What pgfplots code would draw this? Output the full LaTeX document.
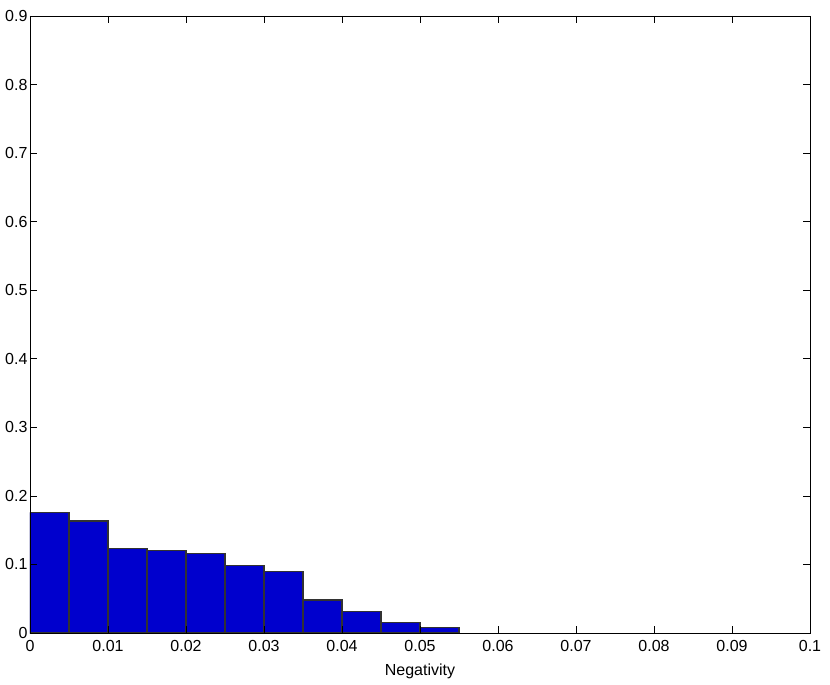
\documentclass[border=0pt]{standalone}
\usepackage{pgfplots}
\pgfplotsset{compat=1.18}
\usepackage{fontspec}
\setmainfont{Liberation Sans}
\definecolor{barblue}{RGB}{0,0,205}
\definecolor{baredge}{RGB}{50,50,50}
\pgfplotstableread{
x y
0.000 0.1755
0.005 0.1634
0.010 0.1230
0.015 0.1200
0.020 0.1162
0.025 0.0987
0.030 0.0894
0.035 0.0481
0.040 0.0311
0.045 0.0156
0.050 0.0077
0.055 0
}\histdata
\begin{document}
\begin{tikzpicture}[font=\fontsize{16bp}{19bp}\selectfont]
\begin{axis}[
  name=ax,
  scale only axis,
  width=780bp, height=617bp,
  xmin=0, xmax=0.1, ymin=0, ymax=0.9,
  xtick={0,0.01,0.02,0.03,0.04,0.05,0.06,0.07,0.08,0.09,0.1},
  xticklabels={0,0.01,0.02,0.03,0.04,0.05,0.06,0.07,0.08,0.09,0.1},
  ytick={0,0.1,0.2,0.3,0.4,0.5,0.6,0.7,0.8,0.9},
  yticklabels={0,0.1,0.2,0.3,0.4,0.5,0.6,0.7,0.8,0.9},
  tick align=inside,
  major tick length=7bp,
  tick style={black, line width=0.6pt},
  axis line style={black, line width=0.8pt},
  tick label style={font=\fontsize{16bp}{19bp}\selectfont},
  label style={font=\fontsize{16bp}{19bp}\selectfont},
  xticklabel style={yshift=-4bp},
  yticklabel style={xshift=1bp},
  xlabel={Negativity},
  xlabel style={yshift=-5bp},
  axis on top,
]
\addplot[ybar interval, fill=barblue, draw=none] table[x=x,y=y] {\histdata};
\addplot[ybar interval, fill=none, draw=baredge, line width=1.2pt] table[x=x,y=y] {\histdata};
\end{axis}
\useasboundingbox ([shift={(-30bp,-52bp)}]ax.south west) rectangle ([shift={(20bp,16bp)}]ax.north east);
\end{tikzpicture}
\end{document}
